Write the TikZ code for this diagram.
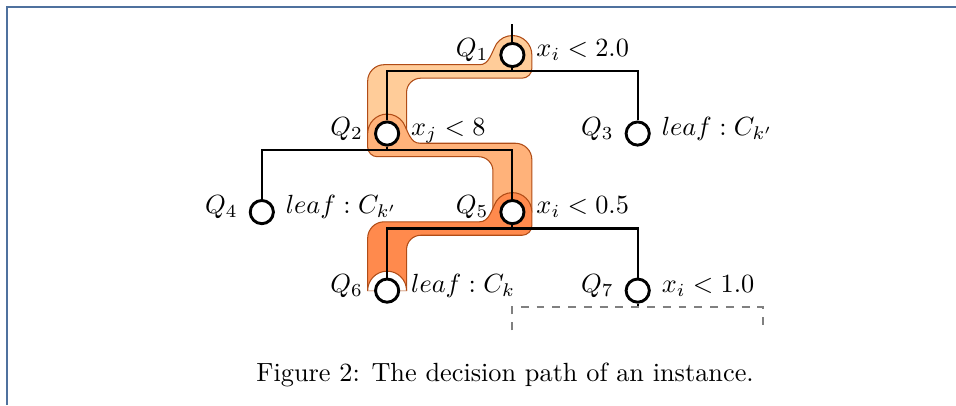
\documentclass[tikz,border=0pt]{standalone}
\usepackage{tikz}
\usetikzlibrary{positioning,backgrounds}
\usepackage{xcolor}
\definecolor{segA}{RGB}{255,204,153}
\definecolor{segB}{RGB}{255,178,122}
\definecolor{segC}{RGB}{255,138,77}
\definecolor{bandline}{RGB}{176,76,22}
\definecolor{framecol}{RGB}{79,113,158}

\begin{document}
\begin{tikzpicture}[
    qnode/.style={circle,draw,line width=1.1pt,fill=white,minimum size=0.31cm,inner sep=0pt},
    qname/.style={inner sep=0pt,anchor=base east,yshift=-0.7pt},
    qtest/.style={inner sep=0pt,anchor=base west,yshift=-0.7pt},
    edge/.style={line width=0.8pt},
    band/.style={draw=bandline,line width=0.4pt},
    subtree/.style={dashed,gray,line width=0.8pt},
    frame/.style={framecol,line width=0.6pt}]
  \useasboundingbox (0,0) rectangle (12.78,5.415);
  %% Frame
  \draw[frame] (0.094,0) -- (0.094,5.32) -- (12.78,5.32);

  %% Tree nodes
  \node[qnode] (Q1) at (6.85,4.68)  {};
  \node[qnode] (Q2) at (5.175,3.63) {};
  \node[qnode] (Q3) at (8.525,3.63) {};
  \node[qnode] (Q4) at (3.50,2.58)  {};
  \node[qnode] (Q5) at (6.85,2.58)  {};
  \node[qnode] (Q6) at (5.175,1.53) {};
  \node[qnode] (Q7) at (8.525,1.53) {};

  %% Names and tests
  \foreach \n/\txt in {1/{x_i < 2.0}, 2/{x_j < 8}, 3/{leaf : C_{k'}},
                       4/{leaf : C_{k'}}, 5/{x_i < 0.5}, 6/{leaf : C_k},
                       7/{x_i < 1.0}}{
    \node[left=4pt of Q\n,qname]  (n\n) {$Q_\n$};
    \node[right=4pt of Q\n,qtest] (t\n) {$\txt$};
  }

  %% Branches
  \coordinate (root) at (6.85,5.09);
  \coordinate[below=0.22cm of Q1.center] (b1);
  \coordinate[below=0.22cm of Q2.center] (b2);
  \coordinate[below=0.22cm of Q5.center] (b5);
  \coordinate[below=0.22cm of Q7.center] (b7);
  \draw[edge] (root) -- (Q1.north);
  \draw[edge] (Q1.south) -- (b1);
  \draw[edge] (Q2.north) |- (b1) -| (Q3.north);
  \draw[edge] (Q2.south) -- (b2);
  \draw[edge] (Q4.north) |- (b2) -| (Q5.north);
  \draw[edge] (Q5.south) -- (b5);
  \draw[edge] (Q6.north) |- (b5) -| (Q7.north);
  \draw[edge] (Q7.south) -- (b7);

  %% Unexpanded subtree below Q7
  \coordinate (s1) at (6.85,1.0);
  \coordinate (s2) at (10.2,1.0);
  \draw[subtree] (s1) |- (b7) -| (s2);

  %% Decision path
  \begin{pgfonlayer}{background}
    \foreach \p/\s/\c in {Q1/1/segA, Q2/-1/segB, Q5/1/segC}{
      \begin{scope}[shift={(\p.center)},xscale=\s]
        \filldraw[band,fill=\c] (0.26,0) arc[start angle=0,end angle=145,radius=0.26]
          .. controls (-0.285,0.02) and (-0.31,-0.13) .. (-0.44,-0.13)
          -- (-1.715,-0.13) arc[start angle=90,end angle=180,radius=0.22]
          -- (-1.935,-1.05) -- (-1.415,-1.05)
          -- (-1.415,-0.50) arc[start angle=180,end angle=90,radius=0.19]
          -- (0.13,-0.31) arc[start angle=-90,end angle=0,radius=0.13]
          -- cycle;
      \end{scope}
    }
    %% leaf reached: cut out round Q6
    \begin{scope}[shift={(Q6.center)}]
      \fill[white] (0.26,0) arc[start angle=0,end angle=180,radius=0.26] -- cycle;
      \draw[band] (0.26,0) arc[start angle=0,end angle=180,radius=0.26];
    \end{scope}
  \end{pgfonlayer}

  %% Caption
  \node[anchor=base] (caption) at (6.752,0.31) {Figure 2: The decision path of an instance.};
\end{tikzpicture}
\end{document}
